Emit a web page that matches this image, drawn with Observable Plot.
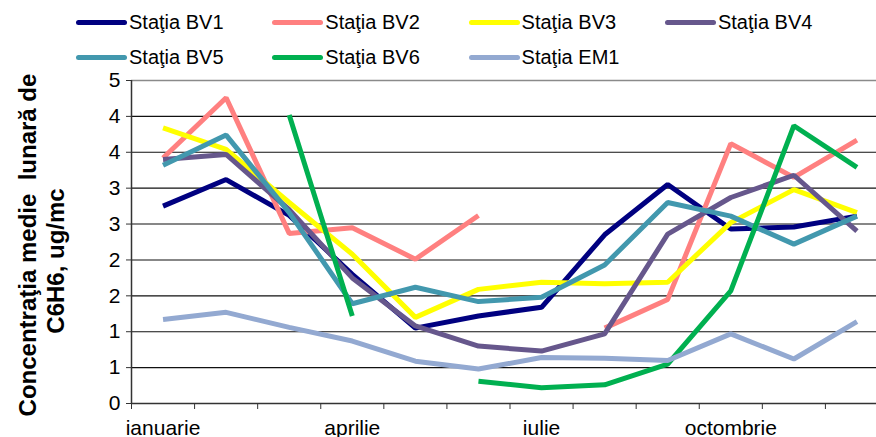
<!DOCTYPE html>
<html><head><meta charset="utf-8">
<script src="https://cdn.jsdelivr.net/npm/d3@7"></script>
<script src="https://cdn.jsdelivr.net/npm/@observablehq/plot@0.6"></script>
<style>
html,body{margin:0;padding:0;overflow:hidden;background:#fff;width:876px;height:437px;}
body{position:relative;font-family:"Liberation Sans",Arial,sans-serif;}
#legend{position:absolute;left:0;top:0;width:876px;height:78px;}
.item{position:absolute;display:flex;align-items:center;font-size:20px;color:#000;line-height:1;transform:translateY(-50%);white-space:nowrap;}
.swatch{width:51px;height:5px;border-radius:3px;margin-right:2px;}
.ytitle{position:absolute;left:0;top:0;font-weight:bold;font-size:24px;white-space:pre;line-height:1;color:#000;}
#chart{position:absolute;left:0;top:78px;width:890px;}
#chart svg{max-width:none !important;}
</style></head><body>
<div id="legend"></div>
<div id="chart"></div>
<script>
const months = ["ianuarie","februarie","martie","aprilie","mai","iunie","iulie","august","septembrie","octombrie","noiembrie","decembrie"];
const shownMonths = ["ianuarie","aprilie","iulie","octombrie"];
const stations = ["Staţia BV1","Staţia BV2","Staţia BV3","Staţia BV4","Staţia BV5","Staţia BV6","Staţia EM1"];
const colors = ["#000080","#FF8080","#FFFF00","#66578C","#4298AE","#00B050","#93A9D1"];
const bv1 = [2.75, 3.12, 2.62, 1.80, 1.05, 1.22, 1.34, 2.35, 3.05, 2.43, 2.46, 2.61];
const bv2 = [3.42, 4.26, 2.37, 2.45, 2.01, 2.62, null, 1.05, 1.45, 3.62, 3.15, 3.67];
const bv3 = [3.84, 3.54, 2.80, 2.08, 1.20, 1.59, 1.69, 1.67, 1.69, 2.52, 2.98, 2.66];
const bv4 = [3.40, 3.47, 2.70, 1.75, 1.08, 0.80, 0.73, 0.97, 2.36, 2.87, 3.18, 2.40];
const bv5 = [3.32, 3.74, 2.66, 1.39, 1.62, 1.42, 1.48, 1.93, 2.80, 2.61, 2.22, 2.61];
const bv6 = [null, null, 4.02, 1.22, null, 0.31, 0.22, 0.26, 0.55, 1.57, 3.87, 3.29];
const em1 = [1.17, 1.27, 1.06, 0.87, 0.59, 0.48, 0.64, 0.63, 0.60, 0.97, 0.62, 1.14];
const yTicks = [0, 0.5, 1, 1.5, 2, 2.5, 3, 3.5, 4, 4.5];
const yTickLabels = ["0","1","1","2","2","3","3","4","4","5"];
const yTitle1 = "Concentraţia medie  lunară de";
const yTitle2 = "C6H6, ug/mc";

const series = [bv1, bv2, bv3, bv4, bv5, bv6, em1];
const data = [];
series.forEach((vals, s) => vals.forEach((v, i) => data.push({station: stations[s], month: i, value: v})));

// legend
const legend = document.getElementById("legend");
stations.forEach((name, k) => {
  const row = Math.floor(k / 4), col = k % 4;
  const it = document.createElement("div");
  it.className = "item";
  it.style.left = (76 + col * 196.3) + "px";
  it.style.top = (22 + row * 35) + "px";
  const sw = document.createElement("span");
  sw.className = "swatch";
  sw.style.background = colors[k];
  const tx = document.createElement("span");
  tx.textContent = name;
  it.appendChild(sw); it.appendChild(tx);
  legend.appendChild(it);
});

// y title
function addTitle(text, cx, cy) {
  const d = document.createElement("div");
  d.className = "ytitle";
  d.textContent = text;
  document.body.appendChild(d);
  const w = d.offsetWidth, h = d.offsetHeight;
  d.style.left = (cx - w / 2) + "px";
  d.style.top = (cy - h / 2) + "px";
  d.style.transform = "rotate(-90deg)";
}
addTitle(yTitle1, 28, 245);
addTitle(yTitle2, 55, 261);

const labelTicks = shownMonths.map(m => months.indexOf(m) + 0.5);

const chart = Plot.plot({
  width: 890,
  height: 359,
  marginLeft: 131,
  marginRight: 2,
  marginTop: 2,
  marginBottom: 34,
  style: {fontFamily: "'Liberation Sans', Arial, sans-serif", fontSize: "21px", color: "#000", background: "transparent", overflow: "visible", maxWidth: "none"},
  x: {type: "linear", domain: [0, 12]},
  y: {domain: [0, 4.5]},
  color: {domain: stations, range: colors},
  marks: [
    Plot.ruleY(yTicks.filter(t => t > 0 && t < 4.5), {stroke: "#111", strokeWidth: 1.1}),
    Plot.ruleY([4.5], {stroke: "#8a8a8a", strokeWidth: 1.5}),
    Plot.line(data, {x: d => d.month + 0.5, y: "value", z: "station", stroke: "station", strokeWidth: 5, strokeLinejoin: "miter", strokeLinecap: "butt"}),
    Plot.ruleX([0], {y1: 0, y2: 4.5, stroke: "#333", strokeWidth: 1.5}),
    Plot.ruleY([0], {stroke: "#333", strokeWidth: 1.5}),
    Plot.axisY({ticks: yTicks, tickFormat: d => yTickLabels[yTicks.indexOf(d)], tickSize: 5, tickPadding: 6, stroke: "#333", label: null}),
    Plot.axisX({ticks: d3.range(13), tickFormat: () => "", tickSize: 6, stroke: "#333", label: null}),
    Plot.axisX({ticks: labelTicks, tickFormat: d => months[Math.floor(d)], tickSize: 0, tickPadding: 17, label: null})
  ]
});
document.getElementById("chart").appendChild(chart);
</script>
</body></html>
